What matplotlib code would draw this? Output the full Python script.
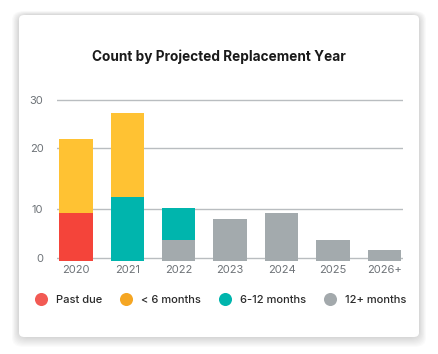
import matplotlib
matplotlib.use('Agg')
import matplotlib.pyplot as plt
import numpy as np
from matplotlib.patches import FancyBboxPatch
from matplotlib.lines import Line2D

plt.rcParams['font.family'] = ['Inter', 'DejaVu Sans']

# data
years = ['2020', '2021', '2022', '2023', '2024', '2025', '2026+']
past_due = [9, 0, 0, 0, 0, 0, 0]
under_6 = [14, 16, 0, 0, 0, 0, 0]
m6_12 = [0, 12, 6, 0, 0, 0, 0]
m12_plus = [0, 0, 4, 8, 9, 4, 2]

# gridline positions as drawn in the source chart (not evenly spaced)
tick_pos = [0.5, 9.8, 21.3, 30.4]
tick_labels = ['0', '10', '20', '30']

bar_colors = {'past': '#f4443a', 'lt6': '#ffc233', 'm612': '#00b5ad', 'm12': '#a3aaad'}
legend_colors = ['#f25a54', '#f5a623', '#00b5ad', '#a3a9ac']
legend_labels = ['Past due', '< 6 months', '6-12 months', '12+ months']

W, H = 439, 354
fig = plt.figure(figsize=(W / 100, H / 100), dpi=100)
fig.patch.set_facecolor('white')

# card with soft shadow
cx0, cy0, cx1, cy1 = 19, 15, 419, 337
for i in range(10, 0, -1):
    sh = FancyBboxPatch(((cx0 - i * 0.7) / W, 1 - (cy1 + i * 1.0) / H),
                        (cx1 - cx0 + i * 1.4) / W, (cy1 - cy0 + i * 1.4) / H,
                        boxstyle='round,pad=0,rounding_size=0.025',
                        transform=fig.transFigure, facecolor='black',
                        alpha=0.014, edgecolor='none', zorder=0)
    fig.add_artist(sh)
card = FancyBboxPatch((cx0 / W, 1 - cy1 / H), (cx1 - cx0) / W, (cy1 - cy0) / H,
                      boxstyle='round,pad=0,rounding_size=0.012',
                      transform=fig.transFigure, facecolor='white',
                      edgecolor='none', zorder=1)
fig.add_artist(card)

ax = fig.add_axes([57.3 / W, 1 - 261 / H, 345.7 / W, 167 / H], zorder=2)
ax.set_facecolor('none')

x = np.arange(len(years))
w = 0.65
b1 = np.array(m12_plus)
b2 = b1 + np.array(m6_12)
b3 = b2 + np.array(past_due)
ax.bar(x, m12_plus, w, color=bar_colors['m12'], zorder=3)
ax.bar(x, m6_12, w, bottom=b1, color=bar_colors['m612'], zorder=3)
ax.bar(x, past_due, w, bottom=b2, color=bar_colors['past'], zorder=3)
ax.bar(x, under_6, w, bottom=b3, color=bar_colors['lt6'], zorder=3)

ax.set_xlim(-0.36, len(years) - 1 + 0.36)
ax.set_ylim(0, 31.5)
ax.set_yticks(tick_pos)
ax.set_yticklabels(tick_labels)
ax.set_xticks(x)
ax.set_xticklabels(years)
ax.grid(axis='y', color='#b9bdc0', linewidth=1.0, zorder=1)
ax.tick_params(axis='both', length=0, labelsize=8, labelcolor='#6e7378')
ax.tick_params(axis='y', pad=10)
ax.tick_params(axis='x', pad=3)
for s in ax.spines.values():
    s.set_visible(False)

fig.text(219 / W, 1 - 57 / H, 'Count by Projected Replacement Year',
         ha='center', va='center', fontsize=9.8, fontweight='bold',
         color='#1a1a1a', zorder=3)

handles = [Line2D([], [], marker='o', linestyle='none', markersize=9.4,
                  markerfacecolor=c, markeredgecolor='none') for c in legend_colors]
leg = fig.legend(handles, legend_labels, loc='center', bbox_to_anchor=(218 / W, 1 - 300 / H),
                 ncol=4, frameon=False, fontsize=8, handletextpad=0.3,
                 columnspacing=1.2, labelcolor='#2a2a2a')
for t in leg.get_texts():
    t.set_fontweight('medium')

fig.savefig('out.png', dpi=100)
